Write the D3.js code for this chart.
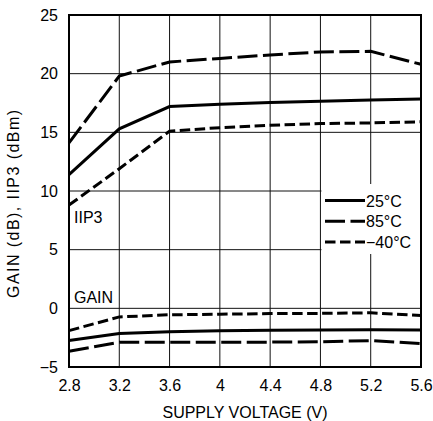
<!DOCTYPE html>
<html>
<head>
<meta charset="utf-8">
<script src="https://cdn.jsdelivr.net/npm/d3@7"></script>
<style>
  body { margin: 0; background: #fff; }
  text { font-family: "Liberation Sans", Arial, sans-serif; fill: #000; }
</style>
</head>
<body>
<div id="root"></div>
<script>
// data
const voltages = [2.8, 3.2, 3.6, 4.0, 4.4, 4.8, 5.2, 5.6];
const xTicks = [2.8, 3.2, 3.6, 4.0, 4.4, 4.8, 5.2, 5.6];
const xTickLabels = ["2.8", "3.2", "3.6", "4", "4.4", "4.8", "5.2", "5.6"];
const yTicks = [-5, 0, 5, 10, 15, 20, 25];
const yTickLabels = ["\u22125", "0", "5", "10", "15", "20", "25"];
const temps = ["25°C", "85°C", "\u221240°C"];

const iip3_25 = [11.4, 15.3, 17.2, 17.4, 17.55, 17.65, 17.75, 17.85];
const iip3_85 = [14.1, 19.8, 21.0, 21.3, 21.6, 21.85, 21.9, 20.8];
const iip3_m40 = [8.8, 11.9, 15.1, 15.4, 15.6, 15.75, 15.8, 15.9];
const gain_25 = [-2.75, -2.15, -2.0, -1.9, -1.87, -1.85, -1.83, -1.85];
const gain_85 = [-3.65, -2.9, -2.9, -2.88, -2.88, -2.85, -2.75, -3.0];
const gain_m40 = [-1.9, -0.73, -0.55, -0.5, -0.45, -0.43, -0.38, -0.62];

const width = 433;
const height = 421;
const plot = { left: 69, right: 421, top: 15, bottom: 367 };

const dashes = { "25°C": null, "85°C": "20,5.5", "\u221240°C": "10.5,4.5" };

const svg = d3.select("#root")
  .append("svg")
  .attr("width", width)
  .attr("height", height);

const x = d3.scaleLinear().domain([2.8, 5.6]).range([plot.left, plot.right]);
const y = d3.scaleLinear().domain([-5, 25]).range([plot.bottom, plot.top]);

// grid
const grid = svg.append("g").attr("stroke", "#111").attr("stroke-width", 1);
grid.selectAll("line.v")
  .data(xTicks.slice(1, -1))
  .join("line")
  .attr("class", "v")
  .attr("x1", (d) => x(d)).attr("x2", (d) => x(d))
  .attr("y1", plot.top).attr("y2", plot.bottom);
grid.selectAll("line.h")
  .data(yTicks.slice(1, -1))
  .join("line")
  .attr("class", "h")
  .attr("x1", plot.left).attr("x2", plot.right)
  .attr("y1", (d) => y(d)).attr("y2", (d) => y(d));

// Axes labels (no lines)
const xAxis = d3.axisBottom(x)
  .tickValues(xTicks)
  .tickSize(0)
  .tickPadding(13)
  .tickFormat((d, i) => xTickLabels[i]);
svg.append("g")
  .attr("transform", `translate(0,${plot.bottom})`)
  .call(xAxis)
  .call((g) => g.select(".domain").remove())
  .attr("font-family", null)
  .selectAll("text")
  .attr("font-size", 16);

const yAxis = d3.axisLeft(y)
  .tickValues(yTicks)
  .tickSize(0)
  .tickPadding(11)
  .tickFormat((d, i) => yTickLabels[i]);
svg.append("g")
  .attr("transform", `translate(${plot.left},0)`)
  .call(yAxis)
  .call((g) => g.select(".domain").remove())
  .attr("font-family", null)
  .selectAll("text")
  .attr("font-size", 16);

// Lines
const line = d3.line()
  .x((d, i) => x(voltages[i]))
  .y((d) => y(d));

const series = [
  { t: "25°C", v: iip3_25 },
  { t: "85°C", v: iip3_85 },
  { t: "\u221240°C", v: iip3_m40 },
  { t: "25°C", v: gain_25 },
  { t: "85°C", v: gain_85 },
  { t: "\u221240°C", v: gain_m40 }
];

svg.append("g")
  .selectAll("path")
  .data(series)
  .join("path")
  .attr("d", (d) => line(d.v))
  .attr("fill", "none")
  .attr("stroke", "#000")
  .attr("stroke-width", 3)
  .attr("stroke-dasharray", (d) => dashes[d.t]);

// Legend
const legend = svg.append("g").attr("id", "legend");
legend.append("rect")
  .attr("x", x(4.8) + 1)
  .attr("y", 184)
  .attr("width", plot.right - x(4.8) - 2)
  .attr("height", 70)
  .attr("fill", "#fff");

const legendRows = legend.selectAll("g.row")
  .data(temps)
  .join("g")
  .attr("class", "row")
  .attr("transform", (d, i) => `translate(325,${200.5 + i * 20.8})`);
legendRows.append("line")
  .attr("x1", 0).attr("x2", 40)
  .attr("stroke", "#000")
  .attr("stroke-width", 3)
  .attr("stroke-dasharray", (d) => dashes[d]);
legendRows.append("text")
  .attr("x", 41)
  .attr("y", 6)
  .attr("font-size", 16)
  .text((d) => d);

// frame
svg.append("rect")
  .attr("x", plot.left).attr("y", plot.top)
  .attr("width", plot.right - plot.left).attr("height", plot.bottom - plot.top)
  .attr("fill", "none")
  .attr("stroke", "#000")
  .attr("stroke-width", 2);

// annotations
svg.append("text").attr("x", 74).attr("y", 223).attr("font-size", 16).text("IIP3");
svg.append("text").attr("x", 74).attr("y", 303).attr("font-size", 16).text("GAIN");

// titles
svg.append("text")
  .attr("x", 245)
  .attr("y", 418)
  .attr("text-anchor", "middle")
  .attr("font-size", 16)
  .text("SUPPLY VOLTAGE (V)");

svg.append("text")
  .attr("transform", "translate(19,204) rotate(-90)")
  .attr("text-anchor", "middle")
  .attr("font-size", 16)
  .attr("textLength", 188)
  .attr("lengthAdjust", "spacing")
  .text("GAIN (dB), IIP3 (dBm)");
</script>
</body>
</html>
